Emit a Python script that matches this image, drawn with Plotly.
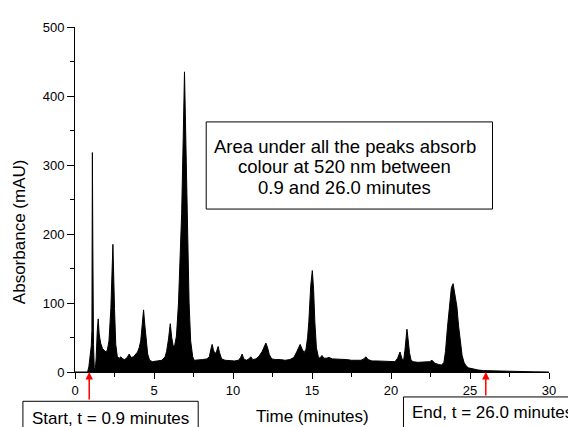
import plotly.graph_objects as go

# Chromatogram
time_min = [0.0, 0.5, 0.8, 0.88, 0.96, 1.03, 1.07, 1.10, 1.13, 1.17, 1.22, 1.28, 1.34, 1.41, 1.47,
            1.53, 1.62, 1.74, 1.85, 1.95, 2.05, 2.15, 2.27, 2.40, 2.50, 2.58, 2.68, 2.80, 2.90,
            3.02, 3.15, 3.30, 3.43, 3.55, 3.70, 3.85, 3.96, 4.06, 4.16, 4.26, 4.34, 4.42, 4.50,
            4.60, 4.72, 4.90, 5.20, 5.50, 5.70, 5.80, 5.92, 6.03, 6.12, 6.23, 6.32, 6.42, 6.55,
            6.65, 6.75, 6.85, 6.93, 7.02, 7.12, 7.22, 7.32, 7.45, 7.54, 7.80, 8.07, 8.35, 8.50,
            8.60, 8.68, 8.76, 8.86, 8.96, 9.06, 9.15, 9.28, 9.50, 9.80, 10.10, 10.35, 10.48,
            10.58, 10.68, 10.85, 11.00, 11.13, 11.25, 11.45, 11.65, 11.85, 11.98, 12.08, 12.18,
            12.30, 12.45, 12.70, 13.00, 13.30, 13.60, 13.85, 14.05, 14.25, 14.38, 14.50, 14.62,
            14.72, 14.80, 14.92, 15.02, 15.10, 15.18, 15.28, 15.40, 15.50, 15.63, 15.75, 15.90,
            16.08, 16.30, 16.60, 16.90, 17.20, 17.50, 17.80, 18.10, 18.28, 18.41, 18.55, 18.80,
            19.10, 19.50, 19.90, 20.25, 20.42, 20.57, 20.70, 20.80, 20.88, 20.95, 21.01, 21.08,
            21.17, 21.27, 21.40, 21.70, 22.10, 22.45, 22.60, 22.75, 23.00, 23.20, 23.35, 23.45,
            23.57, 23.70, 23.82, 23.93, 24.05, 24.17, 24.27, 24.38, 24.50, 24.62, 24.75, 24.90,
            25.20, 25.50, 25.85, 26.50, 27.00, 28.00, 29.00, 30.00]
absorbance = [0, 0, 0, 8, 24, 38, 60, 318, 180, 40, 6, 2, 20, 60, 77,
              55, 42, 34, 31, 29, 32, 45, 92, 185, 92, 40, 22, 20, 22,
              19, 18, 21, 26, 21, 22, 27, 29, 35, 45, 70, 90, 68, 45,
              26, 17, 15, 16, 17, 22, 30, 48, 70, 50, 36, 40, 52, 100,
              160, 230, 340, 435, 330, 210, 100, 45, 22, 17, 18, 18, 19, 22,
              33, 40, 32, 26, 30, 37, 28, 19, 17, 16, 16, 17, 21,
              26, 19, 17, 19, 22, 18, 19, 23, 30, 37, 42, 36,
              25, 19, 18, 18, 17, 18, 21, 30, 40, 33, 28, 33,
              50, 73, 125, 147, 120, 73, 35, 22, 20, 24, 20, 20,
              21, 19, 19, 18, 18, 17, 17, 17, 19, 22, 18, 16,
              16, 16, 15, 15, 20, 29, 19, 17, 31, 50, 62, 48,
              28, 17, 15, 14, 14, 15, 17, 13, 11, 10, 14, 30,
              64, 100, 122, 128, 112, 95, 68, 43, 24, 14, 9, 6,
              4, 3, 2, 1.5, 1, 0.5, 0.3, 0]

x_ticks = [0, 5, 10, 15, 20, 25, 30]
y_ticks = [0, 100, 200, 300, 400, 500]

start_time = 0.9
end_time = 26.0
x_title = "Time (minutes)"
y_title = "Absorbance (mAU)"
box_lines = ["Area under all the peaks absorb", "colour at 520 nm between", "0.9 and 26.0 minutes"]
start_label = "Start, t = 0.9 minutes"
end_label = "End, t = 26.0 minutes"

FONT = "Liberation Sans, Arial, Helvetica, sans-serif"

fig = go.Figure()
fig.add_trace(go.Scatter(
    x=time_min, y=absorbance, mode="lines",
    line=dict(color="black", width=1),
    fill="tozeroy", fillcolor="black",
    showlegend=False, hoverinfo="skip",
))

annotations = [
    dict(text=y_title, xref="paper", yref="paper", x=-0.1156, y=0.406,
         textangle=-90, showarrow=False, font=dict(size=17, color="black", family=FONT),
         xanchor="center", yanchor="middle"),
    dict(text=x_title, xref="paper", yref="paper", x=0.5, y=-0.1286,
         showarrow=False, font=dict(size=17, color="black", family=FONT),
         xanchor="center", yanchor="middle"),
    dict(text=start_label, xref="paper", yref="paper", x=0.0751, y=-0.1343,
         showarrow=False, font=dict(size=17, color="black", family=FONT),
         xanchor="center", yanchor="middle"),
    dict(text=end_label, xref="paper", yref="paper", x=0.8806, y=-0.1163,
         showarrow=False, font=dict(size=17, color="black", family=FONT),
         xanchor="center", yanchor="middle"),
    dict(text="", x=start_time, y=0, xref="x", yref="y", showarrow=True,
         axref="pixel", ayref="pixel", ax=0, ay=29, arrowcolor="red",
         arrowwidth=1.5, arrowhead=2, arrowsize=1, standoff=0),
    dict(text="", x=end_time, y=0, xref="x", yref="y", showarrow=True,
         axref="pixel", ayref="pixel", ax=0, ay=25, arrowcolor="red",
         arrowwidth=1.5, arrowhead=2, arrowsize=1, standoff=0),
]
for line_text, ypos in zip(box_lines, [0.6543, 0.5943, 0.5343]):
    annotations.append(dict(text=line_text, xref="paper", yref="paper", x=0.5692, y=ypos,
                            showarrow=False, font=dict(size=18.5, color="black", family=FONT),
                            xanchor="center", yanchor="middle"))

shapes = [
    dict(type="rect", xref="paper", yref="paper", x0=0.2768, x1=0.8808, y0=0.4723, y1=0.7249,
         line=dict(color="black", width=1), fillcolor="rgba(0,0,0,0)"),
    dict(type="rect", xref="paper", yref="paper", x0=-0.1099, x1=0.2599, y0=-0.1943, y1=-0.0849,
         line=dict(color="black", width=1), fillcolor="white", layer="below"),
    dict(type="rect", xref="paper", yref="paper", x0=0.6930, x1=1.070, y0=-0.1943, y1=-0.0723,
         line=dict(color="black", width=1), fillcolor="white", layer="below"),
]

fig.update_layout(
    width=576, height=427,
    margin=dict(l=67, r=35, t=14, b=63),
    paper_bgcolor="white", plot_bgcolor="white",
    font=dict(family=FONT, color="black", size=13),
    annotations=annotations, shapes=shapes,
    xaxis=dict(range=[0, 30], tickvals=x_ticks, ticks="outside", ticklen=6, tickwidth=1,
               tickcolor="black", showline=True, linecolor="black", linewidth=1,
               showgrid=False, zeroline=False, tickfont=dict(size=13),
               minor=dict(dtick=2.5, tick0=0, ticks="outside", ticklen=4, tickcolor="black", showgrid=False)),
    yaxis=dict(range=[0, 500], tickvals=y_ticks, ticks="outside", ticklen=7, tickwidth=1,
               tickcolor="black", showline=True, linecolor="black", linewidth=1,
               showgrid=False, zeroline=False, tickfont=dict(size=13),
               minor=dict(dtick=50, tick0=0, ticks="outside", ticklen=4, tickcolor="black", showgrid=False)),
)

fig.write_html("out.html")
